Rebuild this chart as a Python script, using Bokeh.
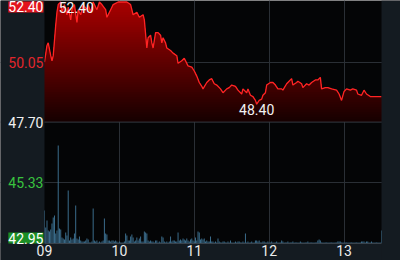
import numpy as np
from bokeh.plotting import figure
from bokeh.models import Range1d, FixedTicker, Label, Span, BoxAnnotation, Grid
from bokeh.embed import file_html
from bokeh.resources import INLINE

# ---- data (minutes after 09:00) ----
price_min = [0, 2, 3, 5, 6, 7, 9, 10, 11, 13, 14, 16, 18, 19, 21, 22, 24, 26, 27, 29,
             31, 34, 35, 37, 39, 42, 44, 46, 49, 50, 53, 55, 59, 62, 66, 69, 71, 74, 76, 79,
             80, 82, 83, 85, 86, 87, 89, 91, 93, 94, 95, 97, 98, 101, 103, 106, 107, 110, 112, 115,
             118, 120, 122, 124, 126, 127, 130, 132, 134, 136, 138, 141, 143, 146, 148, 150, 153, 155, 158, 159,
             162, 163, 165, 167, 169, 170, 172, 174, 175, 177, 178, 181, 183, 185, 187, 190, 191, 194, 195, 198,
             199, 202, 203, 206, 207, 210, 212, 214, 217, 219, 221, 222, 225, 227, 230, 234, 236, 238, 240, 242,
             245, 247, 250, 251, 254, 256, 258, 261, 265, 270]
price_val = [50.05, 50.70, 50.80, 50.30, 50.10, 50.30, 51.50, 52.00, 52.30, 52.40, 52.00, 52.30, 51.90, 52.20, 51.70, 52.10, 52.30, 51.60, 52.10, 51.90,
             52.30, 52.10, 52.30, 52.00, 52.40, 52.10, 52.40, 52.30, 52.10, 51.80, 52.10, 52.30, 52.40, 52.40, 52.40, 52.30, 51.90, 52.00, 51.80, 51.90,
             51.70, 50.60, 51.00, 51.10, 50.80, 50.60, 51.20, 51.20, 51.10, 50.80, 51.00, 50.80, 50.60, 50.50, 50.40, 50.30, 50.00, 50.10, 50.20, 49.90,
             49.85, 49.70, 49.50, 49.25, 49.10, 49.00, 49.25, 49.35, 49.40, 49.20, 49.15, 49.00, 48.85, 49.00, 49.05, 49.15, 49.10, 48.95, 48.80, 49.00,
             48.85, 49.00, 48.75, 48.70, 48.55, 48.40, 48.55, 48.60, 48.75, 48.85, 49.15, 49.25, 49.25, 49.15, 49.00, 49.00, 48.95, 49.20, 49.25, 49.40,
             49.15, 49.25, 49.30, 49.20, 49.05, 49.20, 49.15, 49.25, 49.35, 49.35, 49.45, 49.00, 49.05, 49.05, 49.00, 48.95, 48.80, 48.55, 48.90, 49.00,
             48.95, 49.00, 48.95, 48.80, 48.75, 48.95, 48.80, 48.70, 48.70, 48.70]
volume = [33, 16, 23, 13, 12, 14, 20, 26, 28, 10,
          13, 98, 15, 14, 6, 5, 4, 11, 8, 53,
          3, 6, 4, 5, 10, 38, 5, 4, 7, 3,
          2, 2, 2, 3, 5, 4, 1, 1, 2, 35,
          3, 2, 3, 1, 2, 1, 2, 3, 25, 10,
          9, 3, 3, 2, 3, 3, 2, 3, 2, 1,
          2, 1, 1, 1, 2, 10, 8, 3, 3, 7,
          9, 6, 2, 3, 6, 3, 5, 7, 2, 2,
          12, 11, 10, 3, 2, 3, 2, 2, 1, 3,
          3, 1, 2, 1, 7, 6, 2, 1, 2, 1,
          2, 7, 2, 3, 3, 2, 2, 11, 3, 4,
          3, 5, 4, 3, 5, 3, 2, 4, 5, 3,
          2, 6, 3, 12, 11, 4, 5, 4, 5, 2,
          3, 2, 2, 7, 2, 2, 1, 2, 1, 5,
          2, 1, 1, 2, 2, 1, 1, 2, 1, 3,
          1, 1, 1, 2, 1, 2, 2, 1, 1, 2,
          1, 10, 1, 2, 1, 1, 2, 1, 1, 3,
          3, 2, 3, 1, 1, 2, 2, 1, 1, 2,
          1, 1, 2, 1, 1, 1, 2, 1, 1, 1,
          3, 2, 1, 1, 1, 2, 1, 1, 1, 2,
          1, 1, 1, 1, 1, 2, 1, 1, 1, 1,
          1, 2, 1, 1, 1, 1, 1, 1, 1, 3,
          4, 3, 1, 1, 1, 1, 1, 1, 1, 1,
          1, 1, 1, 1, 1, 2, 2, 2, 1, 1,
          1, 1, 1, 1, 1, 1, 1, 1, 1, 1,
          1, 1, 1, 1, 2, 2, 2, 1, 2, 2,
          1, 1, 2, 1, 1, 1, 1, 1, 1, 1,
          13]
axis_ticks = [52.40, 50.05, 47.70, 45.33, 42.95]
axis_labels = ["52.40", "50.05", "47.70", "45.33", "42.95"]
hour_ticks = [0, 60, 120, 180, 240]
hour_labels = ["09", "10", "11", "12", "13"]
ref_price = 47.70
session_end = 270

assert len(price_min) == len(price_val)

pm = np.array(price_min, dtype=float)
pv = np.array(price_val, dtype=float)
vm = np.arange(len(volume), dtype=float)

FONT = "Roboto"
BORDER = "#141b21"
GRID = "#2a2f35"
PX_X = 1.2484           # px per minute
PX_Y = 25.556           # px per price unit
x_range = Range1d(-44 / PX_X, session_end + 19 / PX_X)
y_range = Range1d(axis_ticks[-1] - 17 / PX_Y, axis_ticks[0] + 1.5 / PX_Y)

p = figure(width=400, height=260, output_backend="svg", toolbar_location=None,
           x_range=x_range, y_range=y_range, x_axis_location=None, y_axis_location=None,
           min_border=0)
p.center = []   # drop default grids
p.extra_y_ranges = {"vol": Range1d(-17, 243)}
p.background_fill_color = "#040506"
p.border_fill_color = BORDER
p.outline_line_color = None

# grid
p.add_layout(Grid(dimension=0, ticker=FixedTicker(ticks=hour_ticks[1:]), grid_line_color=GRID))
p.add_layout(Grid(dimension=1, ticker=FixedTicker(ticks=[axis_ticks[1], axis_ticks[3]]),
                  grid_line_color=GRID))

# gradient fill below price line (stacked bands, top to bottom)
N = 48
edges = np.linspace(ref_price, axis_ticks[0], N + 1)
top_c = np.array([168, 0, 0]); bot_c = np.array([22, 0, 0])
for k in range(N - 1, -1, -1):
    t = (k + 0.5) / N
    c = (bot_c + (top_c - bot_c) * t).astype(int)
    col = "#%02x%02x%02x" % tuple(c)
    p.varea(x=pm, y1=ref_price, y2=np.minimum(pv, edges[k + 1]), fill_color=col)

p.line(pm, pv, line_color="#ff2424", line_width=1.3)

# volume bars
p.segment(x0=vm, y0=0, x1=vm, y1=np.array(volume, dtype=float), y_range_name="vol",
          line_color="#3b6c8b", line_width=1)

# separators & border areas
p.add_layout(Span(location=ref_price, dimension="width", line_color="#343a41", line_width=1))
p.add_layout(BoxAnnotation(top=axis_ticks[-1], fill_color=BORDER, fill_alpha=1, line_color=None))
p.add_layout(Span(location=axis_ticks[-1], dimension="width", line_color="#3a434c", line_width=1))
p.add_layout(BoxAnnotation(right=0, fill_color=BORDER, fill_alpha=1, line_color=None))
p.add_layout(BoxAnnotation(left=session_end, fill_color=BORDER, fill_alpha=1, line_color=None))

# left price labels
styles = [("#ffffff", "#e3141c", "top"), ("#e3262c", None, "middle"), ("#f0f0f0", None, "middle"),
          ("#39c43f", None, "middle"), ("#ffffff", "#1c8f25", "bottom")]
for val, lab, (tc, bg, bl) in zip(axis_ticks, axis_labels, styles):
    yo = 0.5 if bl == "top" else 0
    p.add_layout(Label(x=0, y=val, text=lab, text_align="right", text_baseline=bl,
                       x_offset=-1, y_offset=yo, text_color=tc, text_font=FONT,
                       text_font_size="14px", background_fill_color=bg))

# time labels
for t, lab in zip(hour_ticks, hour_labels):
    p.add_layout(Label(x=t, y=axis_ticks[-1], text=lab, text_align="center", text_baseline="top",
                       y_offset=-1, text_color="#ececec", text_font=FONT, text_font_size="14px"))

# max / min markers
imax = int(np.argmax(pv)); imin = int(np.argmin(pv))
p.add_layout(Label(x=pm[imax], y=pv[imax], text="%.2f" % pv[imax], text_align="left",
                   text_baseline="top", x_offset=-2, y_offset=0, text_color="#f2f2f2",
                   text_font=FONT, text_font_size="14px"))
p.add_layout(Label(x=pm[imin], y=pv[imin], text="%.2f" % pv[imin], text_align="center",
                   text_baseline="top", x_offset=0, y_offset=0, text_color="#f2f2f2",
                   text_font=FONT, text_font_size="14px"))

open("out.html", "w").write(file_html(p, INLINE))
